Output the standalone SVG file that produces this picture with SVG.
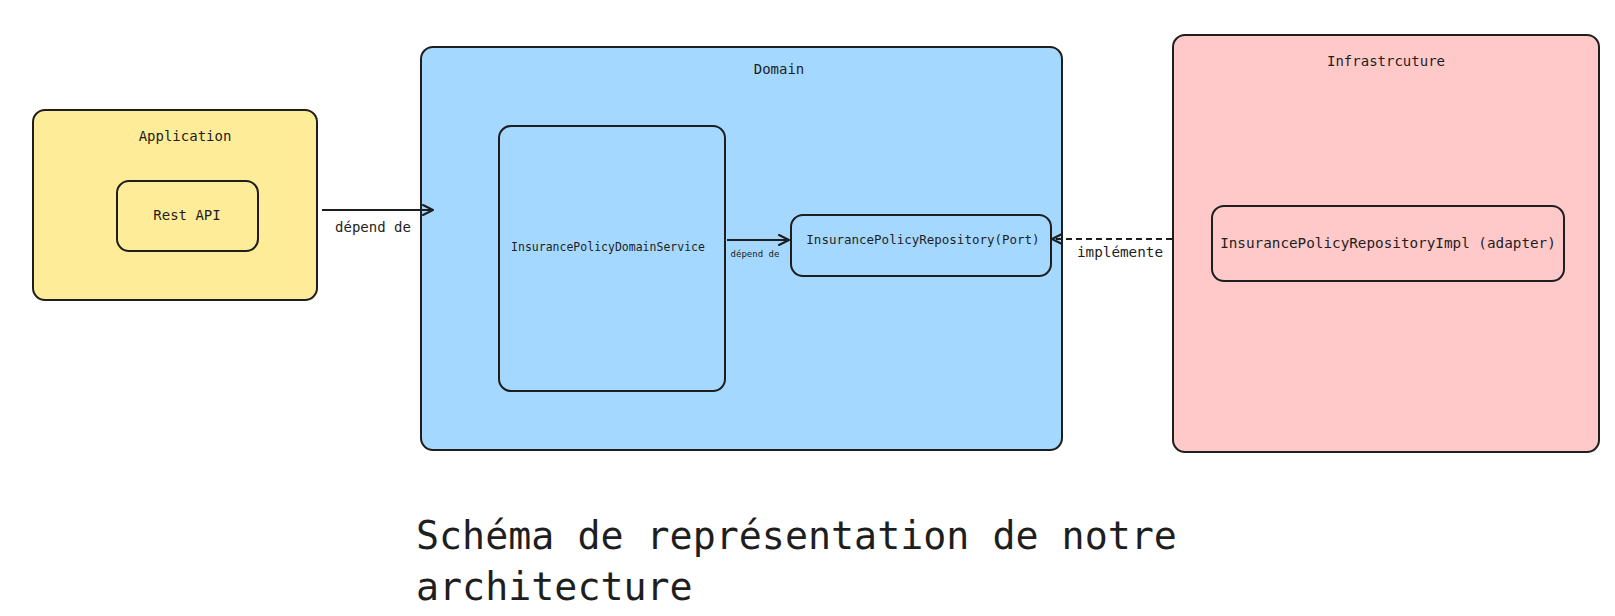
<svg xmlns="http://www.w3.org/2000/svg" width="1615" height="616" viewBox="0 0 1615 616">
<style>
.box{stroke:#1e1e1e;stroke-width:2;}
.inner{fill:none;stroke:#1e1e1e;stroke-width:2;}
text{font-family:"DejaVu Sans Mono","Liberation Mono",monospace;fill:#1e1e1e;text-anchor:middle;}
.conn{fill:none;stroke:#1e1e1e;stroke-width:2;}
</style>
<defs>
<marker id="arr" viewBox="0 0 12 12" refX="11" refY="6" markerWidth="12" markerHeight="12" markerUnits="userSpaceOnUse" orient="auto">
<path d="M1,1 L11,6 L1,11" fill="none" stroke="#1e1e1e" stroke-width="2" stroke-linecap="round" stroke-linejoin="round"/>
</marker>
</defs>
<rect width="1615" height="616" fill="#ffffff"/>
<g id="application">
<rect class="box" x="33" y="110" width="284" height="190" rx="12" fill="#ffec99"/>
<text x="185" y="141" font-size="14">Application</text>
</g>
<g id="rest-api">
<rect class="inner" x="117" y="181" width="141" height="70" rx="12"/>
<text x="187" y="220" font-size="14">Rest API</text>
</g>
<g id="domain">
<rect class="box" x="421" y="47" width="641" height="403" rx="12" fill="#a5d8ff"/>
<text x="779" y="74" font-size="14">Domain</text>
</g>
<g id="domain-service">
<rect class="inner" x="499" y="126" width="226" height="265" rx="12"/>
<text x="608" y="251" font-size="11.5">InsurancePolicyDomainService</text>
</g>
<g id="port">
<rect class="inner" x="791" y="215" width="260" height="61" rx="12"/>
<text x="923" y="244" font-size="12.5">InsurancePolicyRepository(Port)</text>
</g>
<g id="infrastructure">
<rect class="box" x="1173" y="35" width="426" height="417" rx="12" fill="#ffc9c9"/>
<text x="1386" y="66" font-size="14">Infrastrcuture</text>
</g>
<g id="adapter">
<rect class="inner" x="1212" y="206" width="352" height="75" rx="12"/>
<text x="1388" y="248" font-size="14.3">InsurancePolicyRepositoryImpl (adapter)</text>
</g>
<g id="connectors">
<line class="conn" x1="322" y1="210" x2="433" y2="210" marker-end="url(#arr)"/>
<text x="373" y="232" font-size="14">dépend de</text>
<line class="conn" x1="727" y1="240" x2="789" y2="240" marker-end="url(#arr)"/>
<text x="755" y="257" font-size="9">dépend de</text>
<line class="conn" x1="1172" y1="239" x2="1052" y2="239" stroke-dasharray="6,4" marker-end="url(#arr)"/>
<text x="1120" y="257" font-size="14.3">implémente</text>
</g>
<g id="title">
<text x="416" y="549" font-size="38.3" style="text-anchor:start">Schéma de représentation de notre</text>
<text x="416" y="600" font-size="38.3" style="text-anchor:start">architecture</text>
</g>
</svg>
